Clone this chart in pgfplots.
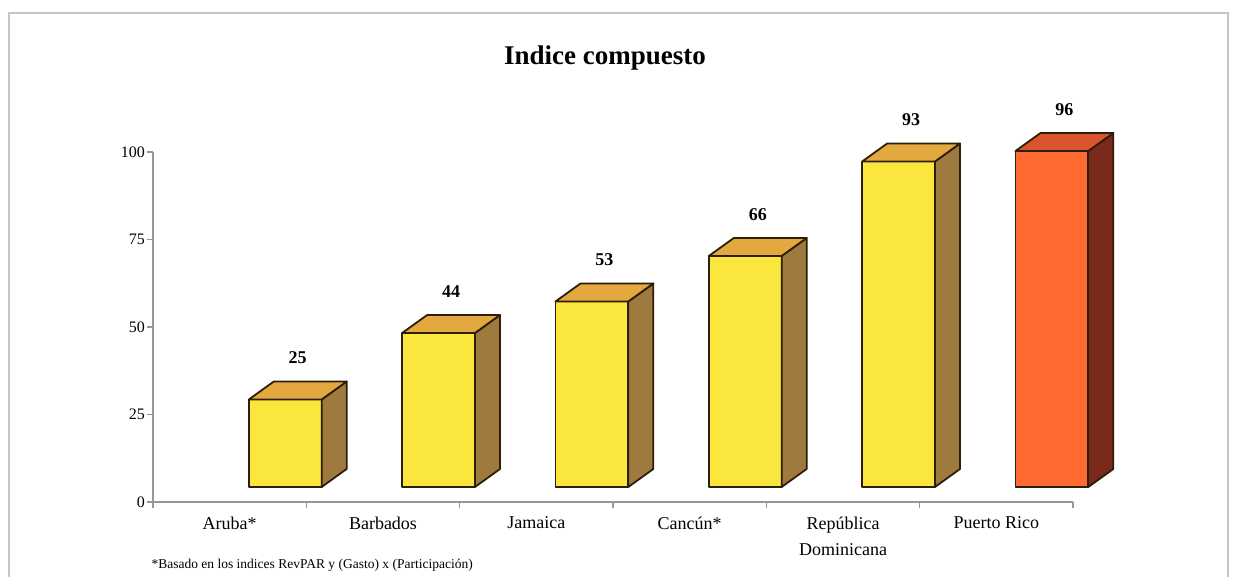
\documentclass[border=0pt]{standalone}
\usepackage{fontspec}
\setmainfont{Liberation Serif}
\usepackage{pgfplots}
\usepackage{pgfplotstable}
\pgfplotsset{compat=1.18}
\definecolor{yfront}{RGB}{250,230,60}
\definecolor{ytop}{RGB}{228,168,64}
\definecolor{yside}{RGB}{158,122,62}
\definecolor{rfront}{RGB}{255,106,48}
\definecolor{rtop}{RGB}{218,84,46}
\definecolor{rside}{RGB}{122,42,26}
\definecolor{edge}{RGB}{45,30,10}
\definecolor{axisgray}{RGB}{150,150,150}

\pgfplotstableread{
idx v
0 25
1 44
2 53
3 66
4 93
5 96
}\datatable

\begin{document}
\begin{tikzpicture}[x=1pt,y=1pt]
\useasboundingbox (0,0) rectangle (1238,577);
\draw[gray!45, line width=1.2pt] (9,0) -- (9,564) -- (1228,564) -- (1228,0);
\node[font=\fontsize{27}{30}\selectfont\bfseries] at (605,519) {Indice compuesto};
\node[anchor=west, font=\fontsize{13.5}{16}\selectfont] at (148,12) {*Basado en los indices RevPAR y (Gasto) x (Participación)};
\begin{axis}[
  at={(153pt,75pt)}, anchor=south west,
  scale only axis, width=920pt, height=350pt,
  xmin=-0.5, xmax=5.5, ymin=0, ymax=100,
  clip=false,
  axis lines*=left,
  axis line style={draw=axisgray, line width=1.2pt},
  tick style={draw=axisgray, line width=1.2pt},
  tick align=outside,
  major tick length=6pt,
  xtick={-0.5,0.5,1.5,2.5,3.5,4.5,5.5},
  xticklabels={},
  extra x ticks={0,1,2,3,4,5},
  extra x tick labels={Aruba*,Barbados,Jamaica,Cancún*,{República\\Dominicana},Puerto Rico},
  extra x tick style={major tick length=0pt},
  xticklabel style={font=\fontsize{18}{26}\selectfont, align=center, yshift=-11pt},
  ytick={0,25,50,75,100},
  yticklabel style={font=\fontsize{16}{18}\selectfont, inner sep=2pt},
  /pgf/number format/assume math mode=true,
]
\pgfplotsforeachungrouped \i in {0,...,5}{%
  \pgfplotstablegetelem{\i}{v}\of\datatable
  \let\val\pgfplotsretval
  \ifnum\i=5\relax \def\cf{rfront}\def\ct{rtop}\def\cs{rside}\else \def\cf{yfront}\def\ct{ytop}\def\cs{yside}\fi
  \pgfmathsetmacro\xl{\i+0.125}
  \pgfmathsetmacro\xr{\i+0.6}
  \pgfmathsetmacro\xrr{\i+0.6+0.163}
  \pgfmathsetmacro\xll{\i+0.125+0.163}
  \pgfmathsetmacro\yt{4.29+\val}
  \pgfmathsetmacro\ytt{4.29+5.14+\val}
  \edef\temp{%
    \noexpand\addplot[fill=\cf, draw=edge, line width=1.8pt, line join=round] coordinates {(\xl,4.29) (\xr,4.29) (\xr,\yt) (\xl,\yt)} -- cycle;
    \noexpand\addplot[fill=\cs, draw=edge, line width=1.8pt, line join=round] coordinates {(\xr,4.29) (\xrr,9.43) (\xrr,\ytt) (\xr,\yt)} -- cycle;
    \noexpand\addplot[fill=\ct, draw=edge, line width=1.8pt, line join=round] coordinates {(\xl,\yt) (\xr,\yt) (\xrr,\ytt) (\xll,\ytt)} -- cycle;
  }%
  \temp
}
\addplot[draw=none, mark=none, nodes near coords, point meta=explicit symbolic,
  nodes near coords style={font=\fontsize{18}{20}\selectfont\bfseries, anchor=center}]
  table[x expr=\thisrow{idx}+0.444, y expr=\thisrow{v}+4.29+5.14+6.7, meta=v]{\datatable};
\end{axis}
\end{tikzpicture}
\end{document}
